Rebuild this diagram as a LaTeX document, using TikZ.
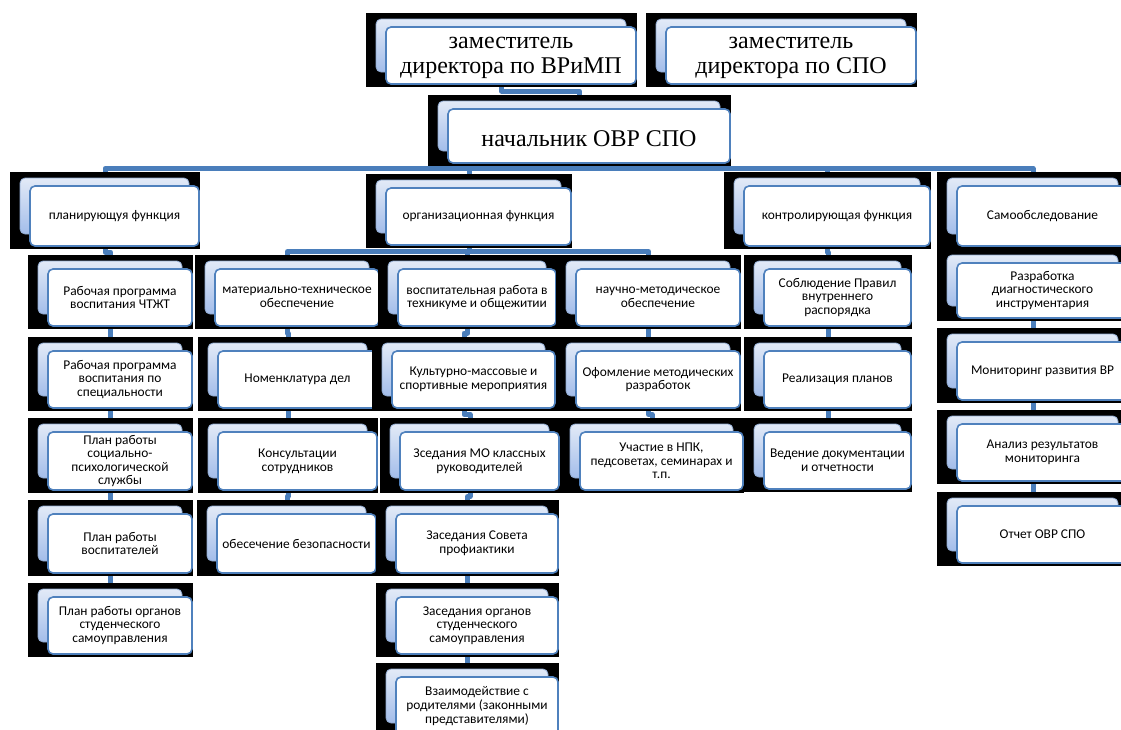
\documentclass[tikz,border=0pt]{standalone}
\usepackage{fontspec}
\setmainfont{Liberation Serif}
\newfontfamily\calfont{Carlito}
\usetikzlibrary{calc}
\definecolor{conncol}{HTML}{4A7EBB}
\definecolor{frontcol}{HTML}{4F81BD}
\definecolor{backtop}{HTML}{E2EAF7}
\definecolor{backbot}{HTML}{A3BDEA}
\definecolor{backline}{HTML}{8FA9CF}
\pgfdeclarelayer{bg}
\pgfsetlayers{bg,main}
\tikzset{
  conn/.style={draw=conncol, line width=5pt, line join=round},
  bgrect/.style={fill=black, draw=none, inner sep=0pt, outer sep=0pt},
  frontbox/.style={fill=white, draw=frontcol, line width=1.6pt, rounded corners=5pt, inner sep=0pt, outer sep=0pt},
  backbox/.style={top color=backtop, bottom color=backbot, draw=backline, line width=0.8pt, rounded corners=5pt},
  lbl/.style={inner sep=0pt, align=center},
  big/.style={font=\fontsize{24}{25.5}\selectfont, yshift=-2.5pt},
  small/.style={font=\calfont\fontsize{13.4}{13.6}\selectfont},
  mid/.style={font=\calfont\fontsize{13.4}{14}\selectfont},
}
% name, x0, y0, x1, y1, text style, text
\newcommand\card[7]{%
  \node[bgrect, minimum width={(#4-#2)*1pt}, minimum height={(#5-#3)*1pt}] (#1) at ({(#2+#4)/2},{(#3+#5)/2}) {};
  \path[backbox] ({#2+10},{#3+6}) rectangle ({#4-11},{#5-15});
  \node[frontbox, minimum width={(#4-#2-21)*1pt}, minimum height={(#5-#3-17)*1pt}] (#1-t) at ({(#2+#4+19)/2},{(#3+#5+11)/2}) {};
  \node[lbl, #6] (#1-x) at (#1-t.center) {#7};
}
\newcommand\link[2]{\draw[conn] (#1.south) |- ($(#1.south)!0.5!(#2.north)$) -| (#2.north);}
\begin{document}
\begin{tikzpicture}[x=1pt, y=-1pt]
\useasboundingbox (0,0) rectangle (1121,729);
% top
\card{zamV}{366}{13}{637}{87}{big}{заместитель\\директора по ВРиМП}
\card{zamS}{646}{13}{917}{87}{big}{заместитель\\директора по СПО}
\card{nach}{428}{95}{731}{166}{big}{начальник ОВР СПО}
% level 2
\card{plan}{10}{172}{200}{249}{mid}{планирующуя функция}
\card{org}{366}{174}{572}{248}{mid}{организационная функция}
\card{ctrl}{724}{172}{931}{249}{mid}{контролирующая функция}
\card{self}{937}{172}{1129}{249}{mid}{Самообследование}
% column A
\card{A1}{28}{255}{193}{329}{small}{Рабочая программа\\воспитания ЧТЖТ}
\card{A2}{28}{337}{193}{411}{small}{Рабочая программа\\воспитания по\\специальности}
\card{A3}{28}{418}{193}{493}{small}{План работы\\социально-\\психологической\\службы}
\card{A4}{28}{500}{193}{576}{small}{План работы\\воспитателей}
\card{A5}{28}{583}{193}{657}{small}{План работы органов\\студенческого\\самоуправления}
% column B
\card{B1}{195}{255}{380}{329}{small}{материально-техническое\\обеспечение}
\card{B2}{198}{337}{378}{411}{small}{Номенклатура дел}
\card{B3}{198}{418}{378}{493}{small}{Консультации\\сотрудников}
\card{B4}{197}{500}{377}{576}{small}{обесечение безопасности}
% column C
\card{C1}{378}{255}{557}{329}{small}{воспитательная работа в\\техникуме и общежитии}
\card{C2}{372}{337}{556}{411}{small}{Культурно-массовые и\\спортивные мероприятия}
\card{C3}{380}{418}{560}{493}{small}{Зседания МО классных\\руководителей}
\card{C4}{376}{500}{559}{576}{small}{Заседания Совета\\профиактики}
\card{C5}{376}{583}{559}{657}{small}{Заседания органов\\студенческого\\самоуправления}
\card{C6}{376}{663}{559}{738}{small}{Взаимодействие с\\родителями (законными\\представителями)}
% column D
\card{D1}{556}{255}{741}{329}{small}{научно-методическое\\обеспечение}
\card{D2}{556}{337}{741}{411}{small}{Офомление методических\\разработок}
\card{D3}{560}{418}{744}{493}{small}{Участие в НПК,\\педсоветах, семинарах и\\т.п.}
% column E
\card{E1}{744}{255}{912}{329}{small}{Соблюдение Правил\\внутреннего\\распорядка}
\card{E2}{744}{337}{912}{411}{small}{Реализация планов}
\card{E3}{744}{418}{912}{492}{small}{Ведение документации\\и отчетности}
% column F
\card{F1}{937}{249}{1129}{321}{small}{Разработка\\диагностического\\инструментария}
\card{F2}{937}{328}{1129}{403}{small}{Мониторинг развития ВР}
\card{F3}{937}{410}{1129}{484}{small}{Анализ результатов\\мониторинга}
\card{F4}{937}{492}{1129}{566}{small}{Отчет ОВР СПО}
% connectors
\begin{pgfonlayer}{bg}
\draw[conn] (zamV.south) -- ++(0,4) -| (nach.north);
\foreach \c in {plan,org,ctrl,self}{\draw[conn] (nach.south) -- ++(0,2.5) -| (\c.north);}
\foreach \c in {B1,C1,D1}{\draw[conn] (org.south) -- ++(0,3.5) -| (\c.north);}
\link{plan}{A1}\link{A1}{A2}\link{A2}{A3}\link{A3}{A4}\link{A4}{A5}
\link{B1}{B2}\link{B2}{B3}\link{B3}{B4}
\link{C1}{C2}\link{C2}{C3}\link{C3}{C4}\link{C4}{C5}\link{C5}{C6}
\link{D1}{D2}\link{D2}{D3}
\link{ctrl}{E1}\link{E1}{E2}\link{E2}{E3}
\link{self}{F1}\link{F1}{F2}\link{F2}{F3}\link{F3}{F4}
\end{pgfonlayer}
\end{tikzpicture}
\end{document}
